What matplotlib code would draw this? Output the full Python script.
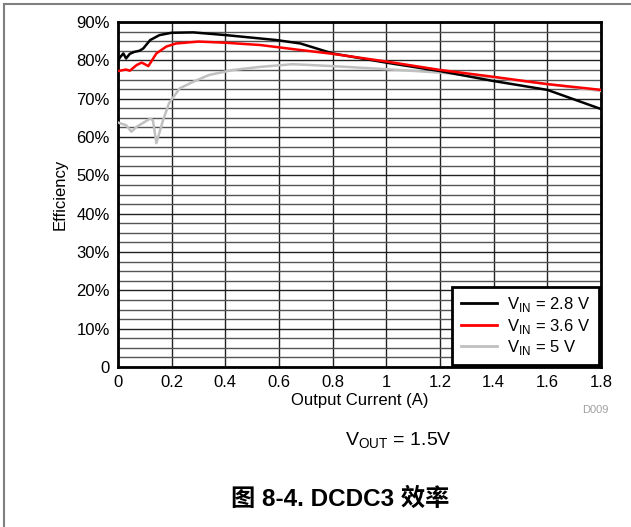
import matplotlib.pyplot as plt
from matplotlib.ticker import MultipleLocator, FuncFormatter
from matplotlib.lines import Line2D

plt.rcParams['font.family'] = ['Liberation Sans', 'Noto Sans CJK SC', 'DejaVu Sans']

# V_IN = 2.8 V
x_28 = [0.0, 0.01, 0.02, 0.03, 0.044, 0.06, 0.08, 0.094, 0.12, 0.155, 0.2, 0.28, 0.4,
        0.59, 0.68, 0.8, 1.0, 1.2, 1.4, 1.6, 1.8]
y_28 = [80.0, 81.0, 81.8, 80.5, 81.7, 82.2, 82.5, 83.1, 85.3, 86.6, 87.2, 87.3, 86.6,
        85.3, 84.4, 81.8, 79.4, 77.2, 74.6, 72.3, 67.3]

# V_IN = 3.6 V
x_36 = [0.0, 0.007, 0.03, 0.044, 0.07, 0.088, 0.1, 0.113, 0.143, 0.18, 0.216, 0.3, 0.4,
        0.53, 0.68, 0.8, 1.0, 1.2, 1.4, 1.6, 1.8]
y_36 = [77.2, 77.3, 77.6, 77.3, 78.8, 79.4, 79.0, 78.5, 81.8, 83.6, 84.4, 84.9, 84.6,
        84.0, 82.7, 81.7, 79.7, 77.5, 75.7, 73.8, 72.3]

# V_IN = 5 V
x_5 = [0.0, 0.007, 0.03, 0.05, 0.07, 0.12, 0.13, 0.143, 0.168, 0.19, 0.23, 0.28, 0.34,
       0.43, 0.53, 0.65, 0.8, 1.0, 1.2, 1.4, 1.6, 1.8]
y_5 = [63.8, 63.6, 63.1, 61.4, 62.7, 64.8, 64.4, 58.4, 64.4, 68.8, 72.7, 74.4, 76.2,
       77.5, 78.3, 79.0, 78.5, 77.7, 76.8, 75.5, 73.8, 72.0]

labels = ['2.8 V', '3.6 V', '5 V']
colors = ['#000000', '#ff0000', '#c0c0c0']

fig = plt.figure(figsize=(6.31, 5.27), dpi=100)
ax = fig.add_axes([0.187, 0.3036, 0.7655, 0.6546])

ax.plot(x_28, y_28, color=colors[0], lw=1.8, zorder=4)
ax.plot(x_36, y_36, color=colors[1], lw=1.8, zorder=4)
ax.plot(x_5, y_5, color=colors[2], lw=1.8, zorder=3)

ax.set_xlim(0, 1.8)
ax.set_ylim(0, 90)
ax.xaxis.set_major_locator(MultipleLocator(0.2))
ax.yaxis.set_major_locator(MultipleLocator(10))
ax.yaxis.set_minor_locator(MultipleLocator(2.5))
ax.xaxis.set_major_formatter(FuncFormatter(lambda v, p: '0' if abs(v) < 1e-9 else ('%g' % round(v, 1))))
ax.yaxis.set_major_formatter(FuncFormatter(lambda v, p: '0' if abs(v) < 1e-9 else '%d%%' % v))
ax.tick_params(which='both', length=0, labelsize=12, pad=6)
ax.grid(which='major', axis='both', color='#222222', lw=1.0)
ax.grid(which='minor', axis='y', color='#555555', lw=1.0)
ax.set_axisbelow(True)
for s in ax.spines.values():
    s.set_linewidth(2)
    s.set_color('black')

ax.set_xlabel('Output Current (A)', fontsize=12, labelpad=2)
ax.set_ylabel('Efficiency', fontsize=12, labelpad=6)

handles = [Line2D([], [], color=c, lw=2) for c in colors]
leg = ax.legend(handles, ['V$_{\\mathregular{IN}}$ = ' + l for l in labels],
                loc='lower right', bbox_to_anchor=(1.006, -0.01), fontsize=12,
                frameon=True, fancybox=False, edgecolor='black', framealpha=1,
                borderpad=0.5, handlelength=2.2, labelspacing=0.15, handletextpad=0.6,
                borderaxespad=0.3)
leg.get_frame().set_linewidth(2)

fig.text(0.965, 0.222, 'D009', color='#a0a0a0', fontsize=8, ha='right', va='center')
fig.text(0.631, 0.163, 'V$_{\\mathregular{OUT}}$ = 1.5V', fontsize=14, ha='center', va='center')
fig.text(0.539, 0.052, '图 8-4. DCDC3 效率', fontsize=17.5, fontweight='bold', ha='center', va='center',
         family=['Liberation Sans', 'Noto Sans CJK SC'])

fig.add_artist(Line2D([0.007, 0.007], [0, 0.992], color='#808080', lw=1.5))
fig.add_artist(Line2D([0.007, 1.0], [0.992, 0.992], color='#808080', lw=1.5))

fig.savefig('out.png', dpi=100)
